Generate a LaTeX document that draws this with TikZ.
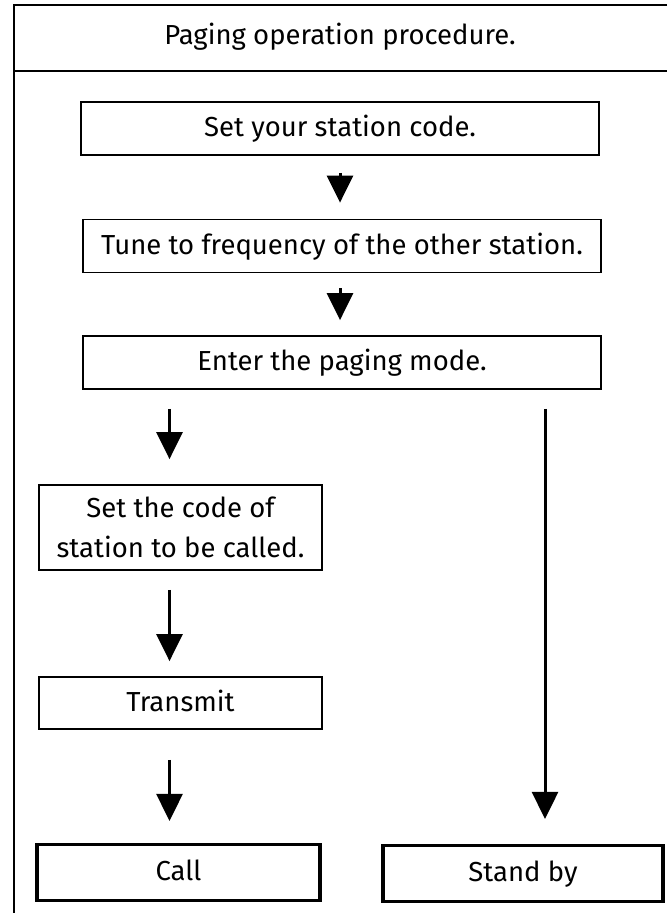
\documentclass[tikz,border=0pt]{standalone}
\usepackage{fontspec}
\setmainfont{Fira Sans}
\usetikzlibrary{arrows.meta}

\begin{document}
\begin{tikzpicture}[x=1pt,y=-1pt,every node/.style={font=\fontsize{27.5}{40}\selectfont},
  stepnode/.style={draw,line width=1.8pt,inner sep=0pt,minimum height=53pt,
    text height=20pt,text depth=4pt},
  endnode/.style={stepnode,line width=3.2pt,minimum height=56pt},
  flow/.style={line width=3pt,-{Triangle[width=26pt,length=27pt]}}]
\useasboundingbox (0,0) rectangle (667,913);
% frame and title strip
\draw[line width=2pt] (667,5) -- (14,5) -- (14,913);
\draw[line width=2pt] (14,71) -- (667,71);
\node (title) at (340,37) {Paging operation procedure.};
% common steps
\node[stepnode,minimum width=518pt] (s1) at (340,128.5) {Set your station code.};
\node[stepnode,minimum width=518pt] (s2) at (342,246) {Tune to frequency of the other station.};
\node[stepnode,minimum width=518pt] (s3) at (342,362.5) {Enter the paging mode.};
\draw[flow,shorten <=17pt,shorten >=16pt] (s1.south) -- (s1.south |- s2.north);
\draw[flow,shorten <=15pt,shorten >=15pt] (s2.south -| s1.south) -- (s1.south |- s3.north);
% calling side
\node[stepnode,text height=,text depth=,minimum width=283pt,minimum height=85pt,align=center] (s4) at (180.5,527.5)
 {Set the code of\\station to be called.};
\node[stepnode,minimum width=283pt,minimum height=52pt] (s5) at (180.5,703) {Transmit};
\node[endnode,minimum width=283pt] (call) at (178.5,872.5) {Call};
\draw[flow,shorten <=19pt,shorten >=25pt] ([xshift=-11pt]s4.north |- s3.south) -- ([xshift=-11pt]s4.north);
\draw[flow,shorten <=19pt,shorten >=15pt] ([xshift=-11pt]s4.south) -- ([xshift=-11pt]s4.south |- s5.north);
\draw[flow,shorten <=30pt,shorten >=22pt] ([xshift=-11pt]s4.south |- s5.south) -- ([xshift=-11pt]s4.south |- call.north);
% called side
\node[endnode,minimum width=280pt] (sb) at (523,873.5) {Stand by};
\draw[flow,shorten <=19pt,shorten >=25pt] ([xshift=22pt]sb.north |- s3.south) -- ([xshift=22pt]sb.north);
\end{tikzpicture}
\end{document}
